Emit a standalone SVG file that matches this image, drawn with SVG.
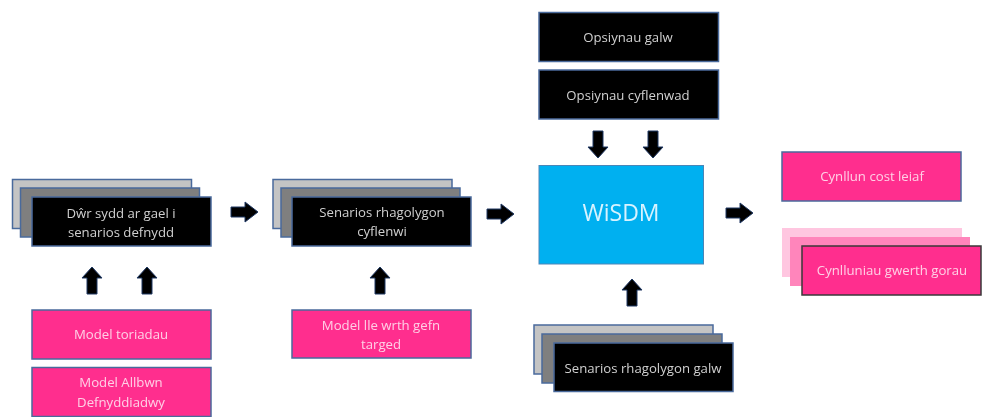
<svg xmlns="http://www.w3.org/2000/svg" width="982" height="417" viewBox="0 0 982 417">
<style>
text{font-family:"Open Sans","Liberation Sans",sans-serif;font-size:13.200px;text-anchor:middle}
.b{stroke:#4a6a9c;stroke-width:1.5}
.k{fill:#000}
.k2{fill:#7f7f7f}
.k3{fill:#c4c4c4}
.p{fill:#ff2f8e}
.tk{fill:#d0d0d0}
.tp{fill:#ffd0e6}
.ar{fill:#000;stroke:#1f3864;stroke-width:1}
</style>
<defs>
<filter id="soft" x="-5%" y="-5%" width="110%" height="110%"><feGaussianBlur stdDeviation="0.45"/></filter>
<path id="up" d="M0 0L10 11H5V27H-5V11H-10Z"/>
<path id="right" d="M0 -10L13 0L0 10V5H-14V-5H0Z"/>
</defs>
<rect width="982" height="417" fill="#fff"/>
<g filter="url(#soft)">
<g id="connectors" class="ar">
<use href="#up" x="92" y="267"/>
<use href="#up" x="147" y="267"/>
<use href="#right" x="245" y="212"/>
<use href="#up" x="380" y="267"/>
<use href="#right" x="501" y="214"/>
<use href="#up" x="632" y="279"/>
<use href="#up" transform="translate(598 158) scale(1 -1)"/>
<use href="#up" transform="translate(653 158) scale(1 -1)"/>
<use href="#right" x="740" y="213"/>
</g>
<g id="node-dwr">
<rect class="b k3" x="12.500" y="179.500" width="179" height="49"/>
<rect class="b k2" x="20.500" y="188" width="179" height="49"/>
<rect class="b k" x="32" y="197" width="179" height="49"/>
<text class="tk" x="121" y="218">Dŵr sydd ar gael i</text>
<text class="tk" x="121" y="237">senarios defnydd</text>
</g>
<g id="node-toriadau">
<rect class="b p" x="32" y="310" width="179" height="49"/>
<text class="tp" x="121" y="339">Model toriadau</text>
</g>
<g id="node-allbwn">
<rect class="b p" x="32" y="367.500" width="179" height="49"/>
<text class="tp" x="121" y="387">Model Allbwn</text>
<text class="tp" x="121" y="407">Defnyddiadwy</text>
</g>
<g id="node-cyflenwi">
<rect class="b k3" x="273" y="179.500" width="179" height="49"/>
<rect class="b k2" x="281" y="188" width="179" height="49"/>
<rect class="b k" x="292" y="197" width="179" height="49"/>
<text class="tk" x="382" y="217">Senarios rhagolygon</text>
<text class="tk" x="382" y="236">cyflenwi</text>
</g>
<g id="node-targed">
<rect class="b p" x="292" y="310" width="179" height="48"/>
<text class="tp" x="381" y="330">Model lle wrth gefn</text>
<text class="tp" x="381" y="349">targed</text>
</g>
<g id="node-galw">
<rect class="b k" x="539" y="12.500" width="179.500" height="49"/>
<text class="tk" x="628" y="42">Opsiynau galw</text>
</g>
<g id="node-cyflenwad">
<rect class="b k" x="539" y="70" width="179.500" height="49"/>
<text class="tk" x="628" y="100">Opsiynau cyflenwad</text>
</g>
<g id="node-wisdm">
<rect x="539" y="165.500" width="164.500" height="98.500" fill="#00b0f0" stroke="#4a86b8" stroke-width="1"/>
<text x="621" y="221" style="font-size:23px" fill="#d8f3ff">WiSDM</text>
</g>
<g id="node-senarios-galw">
<rect class="b k3" x="534" y="325" width="179" height="49"/>
<rect class="b k2" x="542" y="334" width="180" height="49"/>
<rect class="b k" x="554" y="343" width="179" height="48.500"/>
<text class="tk" x="643" y="373">Senarios rhagolygon galw</text>
</g>
<g id="node-cost">
<rect class="b p" x="782" y="152" width="179" height="49"/>
<text class="tp" x="872" y="181">Cynllun cost leiaf</text>
</g>
<g id="node-gwerth">
<rect x="782" y="228" width="180" height="49" fill="#ffc6e0"/>
<rect x="790" y="237" width="180" height="49" fill="#ff85bb"/>
<rect class="p" x="802" y="246" width="179" height="49" stroke="#3a3a3a" stroke-width="1.500"/>
<text class="tp" x="892" y="275">Cynlluniau gwerth gorau</text>
</g>
</g>
</svg>
